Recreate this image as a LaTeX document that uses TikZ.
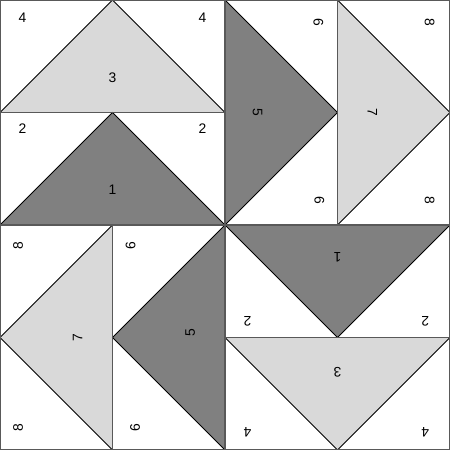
\documentclass[tikz,border=0pt]{standalone}
\usepackage{fontspec}
\setmainfont{Liberation Sans}
\definecolor{patchdark}{gray}{0.5}
\definecolor{patchlight}{gray}{0.85}
\definecolor{seam}{gray}{0.35}
\begin{document}
\begin{tikzpicture}[x=3cm,y=3cm,
    seam line/.style={draw=seam,line width=0.8pt},
    dark patch/.style={fill=patchdark,draw=black,line width=0.6pt},
    light patch/.style={fill=patchlight,draw=black,line width=0.6pt},
    num/.style={font=\fontsize{10.5}{12}\selectfont,inner sep=0pt}]
    \useasboundingbox (0,0) rectangle (4,4);
    % top left quarter
    \filldraw[light patch](0,3)--(1,4)--(2,3)--cycle;
    \filldraw[dark patch](0,2)--(1,3)--(2,2)--cycle;
    \node[num](tl3) at (1,3.31){3};
    \node[num](tl1) at (1,2.31){1};
    \node[num](tl4a) at (0.2,3.84){4};
    \node[num](tl4b) at (1.8,3.84){4};
    \node[num](tl2a) at (0.2,2.86){2};
    \node[num](tl2b) at (1.8,2.86){2};
    % top right quarter
    \filldraw[dark patch](2,4)--(3,3)--(2,2)--cycle;
    \filldraw[light patch](3,4)--(4,3)--(3,2)--cycle;
    \node[num,rotate=-90](tr5) at (2.29,3){5};
    \node[num,rotate=-90](tr7) at (3.31,3){7};
    \node[num,rotate=-90](tr6a) at (2.83,3.8){6};
    \node[num,rotate=-90](tr6b) at (2.84,2.22){6};
    \node[num,rotate=-90](tr8a) at (3.82,3.8){8};
    \node[num,rotate=-90](tr8b) at (3.82,2.22){8};
    % bottom left quarter
    \filldraw[light patch](1,2)--(0,1)--(1,0)--cycle;
    \filldraw[dark patch](2,2)--(1,1)--(2,0)--cycle;
    \node[num,rotate=90](bl7) at (0.69,1){7};
    \node[num,rotate=90](bl5) at (1.69,1.04){5};
    \node[num,rotate=90](bl8a) at (0.16,1.82){8};
    \node[num,rotate=90](bl8b) at (0.16,0.2){8};
    \node[num,rotate=90](bl6a) at (1.16,1.82){6};
    \node[num,rotate=90](bl6b) at (1.2,0.2){6};
    % bottom right quarter
    \filldraw[dark patch](2,2)--(3,1)--(4,2)--cycle;
    \filldraw[light patch](2,1)--(3,0)--(4,1)--cycle;
    \node[num,rotate=180](br1) at (3,1.71){1};
    \node[num,rotate=180](br3) at (3,0.69){3};
    \node[num,rotate=180](br2a) at (2.2,1.14){2};
    \node[num,rotate=180](br2b) at (3.78,1.14){2};
    \node[num,rotate=180](br4a) at (2.2,0.16){4};
    \node[num,rotate=180](br4b) at (3.78,0.16){4};
    % seams
    \draw[seam line](2,0)--(2,4) (0,2)--(4,2);
    \draw[seam line](0,3)--(2,3) (2,1)--(4,1) (3,2)--(3,4) (1,0)--(1,2);
    \draw[seam line](0.005,0.005)rectangle(3.995,3.995);
\end{tikzpicture}
\end{document}
